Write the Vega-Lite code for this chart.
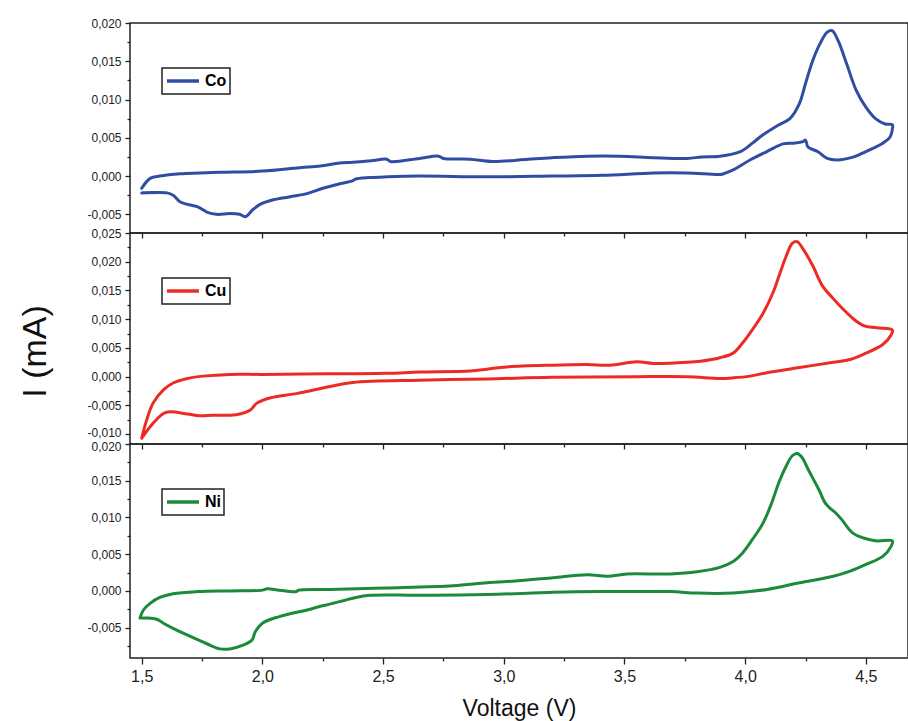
{
  "$schema": "https://vega.github.io/schema/vega-lite/v6.json",
  "padding": {"left": 17, "top": 16, "right": 0, "bottom": 0},
  "background": "white",
  "bounds": "flush",
  "spacing": 0,
  "config": {
    "font": "Liberation Sans",
    "view": {"stroke": "#222", "strokeWidth": 1.5},
    "axis": {"domain": false, "grid": false, "labelFont": "Liberation Sans", "labelColor": "#222", "tickColor": "#222", "tickWidth": 1.3, "labelOverlap": false, "labelFlush": false, "titleFont": "Liberation Sans", "titleColor": "#111", "titleFontWeight": "normal"},
    "legend": {"strokeColor": "#222", "strokeWidth": 1.5, "padding": 3, "symbolType": "stroke", "symbolStrokeWidth": 3.5, "symbolSize": 1024, "clipHeight": 20, "labelFontSize": 16, "labelFontWeight": "bold", "labelFont": "Liberation Sans", "labelColor": "black", "labelOffset": 4}
  },
  "resolve": {"scale": {"color": "independent", "x": "independent", "y": "independent"}, "legend": {"color": "independent"}},
  "datasets": {
    "cv": [
      {"m":"Co","o":1,"v":1.500,"i":-0.0016},{"m":"Co","o":2,"v":1.535,"i":-0.0003},{"m":"Co","o":3,"v":1.575,"i":0.0000},{"m":"Co","o":4,"v":1.66,"i":0.0003},{"m":"Co","o":5,"v":1.74,"i":0.0004},{"m":"Co","o":6,"v":1.82,"i":0.0005},{"m":"Co","o":7,"v":2.00,"i":0.00065},{"m":"Co","o":8,"v":2.155,"i":0.0011},{"m":"Co","o":9,"v":2.24,"i":0.0013},{"m":"Co","o":10,"v":2.32,"i":0.0017},{"m":"Co","o":11,"v":2.375,"i":0.0018},{"m":"Co","o":12,"v":2.45,"i":0.0020},{"m":"Co","o":13,"v":2.515,"i":0.0022},{"m":"Co","o":14,"v":2.53,"i":0.0019},{"m":"Co","o":15,"v":2.65,"i":0.0023},{"m":"Co","o":16,"v":2.73,"i":0.0026},{"m":"Co","o":17,"v":2.75,"i":0.0023},{"m":"Co","o":18,"v":2.86,"i":0.0022},{"m":"Co","o":19,"v":2.955,"i":0.0019},{"m":"Co","o":20,"v":3.10,"i":0.0022},{"m":"Co","o":21,"v":3.20,"i":0.0024},{"m":"Co","o":22,"v":3.345,"i":0.0026},{"m":"Co","o":23,"v":3.48,"i":0.0026},{"m":"Co","o":24,"v":3.62,"i":0.0024},{"m":"Co","o":25,"v":3.76,"i":0.0023},{"m":"Co","o":26,"v":3.82,"i":0.0025},{"m":"Co","o":27,"v":3.895,"i":0.0026},{"m":"Co","o":28,"v":3.98,"i":0.0032},{"m":"Co","o":29,"v":4.03,"i":0.0043},{"m":"Co","o":30,"v":4.07,"i":0.0053},{"m":"Co","o":31,"v":4.14,"i":0.0067},{"m":"Co","o":32,"v":4.185,"i":0.0075},{"m":"Co","o":33,"v":4.225,"i":0.0095},{"m":"Co","o":34,"v":4.25,"i":0.0121},{"m":"Co","o":35,"v":4.28,"i":0.0151},{"m":"Co","o":36,"v":4.31,"i":0.0173},{"m":"Co","o":37,"v":4.34,"i":0.0188},{"m":"Co","o":38,"v":4.36,"i":0.0190},{"m":"Co","o":39,"v":4.385,"i":0.0177},{"m":"Co","o":40,"v":4.42,"i":0.0147},{"m":"Co","o":41,"v":4.46,"i":0.0112},{"m":"Co","o":42,"v":4.50,"i":0.0090},{"m":"Co","o":43,"v":4.54,"i":0.0075},{"m":"Co","o":44,"v":4.58,"i":0.0068},{"m":"Co","o":45,"v":4.61,"i":0.0067},{"m":"Co","o":46,"v":4.61,"i":0.0062},{"m":"Co","o":47,"v":4.60,"i":0.0051},{"m":"Co","o":48,"v":4.57,"i":0.0043},{"m":"Co","o":49,"v":4.50,"i":0.0032},{"m":"Co","o":50,"v":4.45,"i":0.0025},{"m":"Co","o":51,"v":4.38,"i":0.0021},{"m":"Co","o":52,"v":4.34,"i":0.0023},{"m":"Co","o":53,"v":4.30,"i":0.0032},{"m":"Co","o":54,"v":4.26,"i":0.0038},{"m":"Co","o":55,"v":4.25,"i":0.0047},{"m":"Co","o":56,"v":4.24,"i":0.0045},{"m":"Co","o":57,"v":4.20,"i":0.0043},{"m":"Co","o":58,"v":4.157,"i":0.0042},{"m":"Co","o":59,"v":4.09,"i":0.0032},{"m":"Co","o":60,"v":4.02,"i":0.0021},{"m":"Co","o":61,"v":3.95,"i":0.0008},{"m":"Co","o":62,"v":3.91,"i":0.0003},{"m":"Co","o":63,"v":3.895,"i":0.0002},{"m":"Co","o":64,"v":3.76,"i":0.0004},{"m":"Co","o":65,"v":3.62,"i":0.0004},{"m":"Co","o":66,"v":3.41,"i":0.0001},{"m":"Co","o":67,"v":3.20,"i":0.0000},{"m":"Co","o":68,"v":2.93,"i":-0.0001},{"m":"Co","o":69,"v":2.65,"i":0.0000},{"m":"Co","o":70,"v":2.515,"i":-0.0001},{"m":"Co","o":71,"v":2.445,"i":-0.0002},{"m":"Co","o":72,"v":2.385,"i":-0.0004},{"m":"Co","o":73,"v":2.375,"i":-0.0006},{"m":"Co","o":74,"v":2.31,"i":-0.0011},{"m":"Co","o":75,"v":2.25,"i":-0.0016},{"m":"Co","o":76,"v":2.185,"i":-0.0023},{"m":"Co","o":77,"v":2.115,"i":-0.0027},{"m":"Co","o":78,"v":2.045,"i":-0.0031},{"m":"Co","o":79,"v":1.99,"i":-0.0037},{"m":"Co","o":80,"v":1.96,"i":-0.0044},{"m":"Co","o":81,"v":1.93,"i":-0.0053},{"m":"Co","o":82,"v":1.905,"i":-0.0050},{"m":"Co","o":83,"v":1.865,"i":-0.0049},{"m":"Co","o":84,"v":1.81,"i":-0.0050},{"m":"Co","o":85,"v":1.77,"i":-0.0047},{"m":"Co","o":86,"v":1.73,"i":-0.0040},{"m":"Co","o":87,"v":1.69,"i":-0.0037},{"m":"Co","o":88,"v":1.66,"i":-0.0034},{"m":"Co","o":89,"v":1.63,"i":-0.0025},{"m":"Co","o":90,"v":1.605,"i":-0.0022},{"m":"Co","o":91,"v":1.50,"i":-0.0022},
      {"m":"Cu","o":1,"v":1.500,"i":-0.0107},{"m":"Cu","o":2,"v":1.52,"i":-0.0076},{"m":"Cu","o":3,"v":1.547,"i":-0.0046},{"m":"Cu","o":4,"v":1.59,"i":-0.0023},{"m":"Cu","o":5,"v":1.63,"i":-0.0011},{"m":"Cu","o":6,"v":1.69,"i":-0.0003},{"m":"Cu","o":7,"v":1.755,"i":0.0001},{"m":"Cu","o":8,"v":1.865,"i":0.0004},{"m":"Cu","o":9,"v":2.00,"i":0.0004},{"m":"Cu","o":10,"v":2.28,"i":0.0005},{"m":"Cu","o":11,"v":2.515,"i":0.0006},{"m":"Cu","o":12,"v":2.65,"i":0.0008},{"m":"Cu","o":13,"v":2.86,"i":0.0010},{"m":"Cu","o":14,"v":2.93,"i":0.0013},{"m":"Cu","o":15,"v":3.01,"i":0.0017},{"m":"Cu","o":16,"v":3.20,"i":0.0020},{"m":"Cu","o":17,"v":3.345,"i":0.0021},{"m":"Cu","o":18,"v":3.44,"i":0.0020},{"m":"Cu","o":19,"v":3.55,"i":0.0026},{"m":"Cu","o":20,"v":3.62,"i":0.0023},{"m":"Cu","o":21,"v":3.76,"i":0.0025},{"m":"Cu","o":22,"v":3.815,"i":0.0027},{"m":"Cu","o":23,"v":3.895,"i":0.0033},{"m":"Cu","o":24,"v":3.95,"i":0.0041},{"m":"Cu","o":25,"v":3.99,"i":0.0059},{"m":"Cu","o":26,"v":4.03,"i":0.0082},{"m":"Cu","o":27,"v":4.075,"i":0.0111},{"m":"Cu","o":28,"v":4.115,"i":0.0146},{"m":"Cu","o":29,"v":4.14,"i":0.0175},{"m":"Cu","o":30,"v":4.17,"i":0.0210},{"m":"Cu","o":31,"v":4.195,"i":0.0232},{"m":"Cu","o":32,"v":4.215,"i":0.0235},{"m":"Cu","o":33,"v":4.24,"i":0.0222},{"m":"Cu","o":34,"v":4.28,"i":0.0193},{"m":"Cu","o":35,"v":4.32,"i":0.0158},{"m":"Cu","o":36,"v":4.36,"i":0.0138},{"m":"Cu","o":37,"v":4.40,"i":0.0120},{"m":"Cu","o":38,"v":4.45,"i":0.0100},{"m":"Cu","o":39,"v":4.49,"i":0.0089},{"m":"Cu","o":40,"v":4.545,"i":0.0085},{"m":"Cu","o":41,"v":4.61,"i":0.0081},{"m":"Cu","o":42,"v":4.605,"i":0.0073},{"m":"Cu","o":43,"v":4.57,"i":0.0056},{"m":"Cu","o":44,"v":4.50,"i":0.0041},{"m":"Cu","o":45,"v":4.435,"i":0.0030},{"m":"Cu","o":46,"v":4.365,"i":0.0025},{"m":"Cu","o":47,"v":4.225,"i":0.0016},{"m":"Cu","o":48,"v":4.09,"i":0.0007},{"m":"Cu","o":49,"v":4.02,"i":0.0001},{"m":"Cu","o":50,"v":3.95,"i":-0.0002},{"m":"Cu","o":51,"v":3.895,"i":-0.0003},{"m":"Cu","o":52,"v":3.76,"i":0.0000},{"m":"Cu","o":53,"v":3.55,"i":0.0000},{"m":"Cu","o":54,"v":3.20,"i":-0.0001},{"m":"Cu","o":55,"v":2.93,"i":-0.0004},{"m":"Cu","o":56,"v":2.65,"i":-0.0006},{"m":"Cu","o":57,"v":2.375,"i":-0.0010},{"m":"Cu","o":58,"v":2.28,"i":-0.0017},{"m":"Cu","o":59,"v":2.145,"i":-0.0029},{"m":"Cu","o":60,"v":2.03,"i":-0.0037},{"m":"Cu","o":61,"v":1.977,"i":-0.0046},{"m":"Cu","o":62,"v":1.95,"i":-0.0058},{"m":"Cu","o":63,"v":1.907,"i":-0.0065},{"m":"Cu","o":64,"v":1.865,"i":-0.0067},{"m":"Cu","o":65,"v":1.795,"i":-0.0067},{"m":"Cu","o":66,"v":1.74,"i":-0.0068},{"m":"Cu","o":67,"v":1.69,"i":-0.0065},{"m":"Cu","o":68,"v":1.617,"i":-0.0061},{"m":"Cu","o":69,"v":1.59,"i":-0.0064},{"m":"Cu","o":70,"v":1.547,"i":-0.0081},{"m":"Cu","o":71,"v":1.505,"i":-0.0104},{"m":"Cu","o":72,"v":1.500,"i":-0.0107},
      {"m":"Ni","o":1,"v":1.493,"i":-0.0037},{"m":"Ni","o":2,"v":1.507,"i":-0.0026},{"m":"Ni","o":3,"v":1.535,"i":-0.0017},{"m":"Ni","o":4,"v":1.575,"i":-0.0009},{"m":"Ni","o":5,"v":1.63,"i":-0.0004},{"m":"Ni","o":6,"v":1.73,"i":-0.0001},{"m":"Ni","o":7,"v":1.865,"i":0.0000},{"m":"Ni","o":8,"v":2.00,"i":0.0001},{"m":"Ni","o":9,"v":2.02,"i":0.0003},{"m":"Ni","o":10,"v":2.07,"i":0.0001},{"m":"Ni","o":11,"v":2.14,"i":-0.0001},{"m":"Ni","o":12,"v":2.15,"i":0.0001},{"m":"Ni","o":13,"v":2.28,"i":0.0002},{"m":"Ni","o":14,"v":2.515,"i":0.0004},{"m":"Ni","o":15,"v":2.79,"i":0.0007},{"m":"Ni","o":16,"v":2.93,"i":0.0011},{"m":"Ni","o":17,"v":3.07,"i":0.0014},{"m":"Ni","o":18,"v":3.205,"i":0.0018},{"m":"Ni","o":19,"v":3.345,"i":0.0022},{"m":"Ni","o":20,"v":3.43,"i":0.0020},{"m":"Ni","o":21,"v":3.51,"i":0.0023},{"m":"Ni","o":22,"v":3.69,"i":0.0023},{"m":"Ni","o":23,"v":3.80,"i":0.0026},{"m":"Ni","o":24,"v":3.895,"i":0.0032},{"m":"Ni","o":25,"v":3.95,"i":0.0040},{"m":"Ni","o":26,"v":3.99,"i":0.0052},{"m":"Ni","o":27,"v":4.03,"i":0.0070},{"m":"Ni","o":28,"v":4.075,"i":0.0093},{"m":"Ni","o":29,"v":4.11,"i":0.0120},{"m":"Ni","o":30,"v":4.14,"i":0.0148},{"m":"Ni","o":31,"v":4.17,"i":0.0170},{"m":"Ni","o":32,"v":4.195,"i":0.0184},{"m":"Ni","o":33,"v":4.215,"i":0.0187},{"m":"Ni","o":34,"v":4.235,"i":0.0182},{"m":"Ni","o":35,"v":4.26,"i":0.0166},{"m":"Ni","o":36,"v":4.305,"i":0.0138},{"m":"Ni","o":37,"v":4.335,"i":0.0118},{"m":"Ni","o":38,"v":4.375,"i":0.0106},{"m":"Ni","o":39,"v":4.40,"i":0.0097},{"m":"Ni","o":40,"v":4.445,"i":0.0079},{"m":"Ni","o":41,"v":4.49,"i":0.0072},{"m":"Ni","o":42,"v":4.545,"i":0.0068},{"m":"Ni","o":43,"v":4.61,"i":0.0068},{"m":"Ni","o":44,"v":4.605,"i":0.0061},{"m":"Ni","o":45,"v":4.57,"i":0.0047},{"m":"Ni","o":46,"v":4.50,"i":0.0036},{"m":"Ni","o":47,"v":4.435,"i":0.0027},{"m":"Ni","o":48,"v":4.365,"i":0.0020},{"m":"Ni","o":49,"v":4.225,"i":0.0011},{"m":"Ni","o":50,"v":4.09,"i":0.0002},{"m":"Ni","o":51,"v":4.02,"i":-0.0001},{"m":"Ni","o":52,"v":3.95,"i":-0.0003},{"m":"Ni","o":53,"v":3.80,"i":-0.0003},{"m":"Ni","o":54,"v":3.69,"i":-0.0001},{"m":"Ni","o":55,"v":3.41,"i":-0.0001},{"m":"Ni","o":56,"v":3.205,"i":-0.0002},{"m":"Ni","o":57,"v":2.93,"i":-0.0005},{"m":"Ni","o":58,"v":2.65,"i":-0.0006},{"m":"Ni","o":59,"v":2.445,"i":-0.0006},{"m":"Ni","o":60,"v":2.375,"i":-0.0010},{"m":"Ni","o":61,"v":2.28,"i":-0.0018},{"m":"Ni","o":62,"v":2.24,"i":-0.0021},{"m":"Ni","o":63,"v":2.185,"i":-0.0026},{"m":"Ni","o":64,"v":2.07,"i":-0.0035},{"m":"Ni","o":65,"v":2.00,"i":-0.0044},{"m":"Ni","o":66,"v":1.97,"i":-0.0056},{"m":"Ni","o":67,"v":1.957,"i":-0.0067},{"m":"Ni","o":68,"v":1.92,"i":-0.0074},{"m":"Ni","o":69,"v":1.865,"i":-0.0079},{"m":"Ni","o":70,"v":1.824,"i":-0.0079},{"m":"Ni","o":71,"v":1.77,"i":-0.0072},{"m":"Ni","o":72,"v":1.688,"i":-0.0060},{"m":"Ni","o":73,"v":1.63,"i":-0.0051},{"m":"Ni","o":74,"v":1.59,"i":-0.0044},{"m":"Ni","o":75,"v":1.565,"i":-0.0039},{"m":"Ni","o":76,"v":1.52,"i":-0.0037},{"m":"Ni","o":77,"v":1.493,"i":-0.0037}
    ]
  },
  "vconcat": [
    {
      "width": 778, "height": 210,
      "data": {"name": "cv"},
      "transform": [{"filter": "datum.m === 'Co'"}],
      "mark": {"type": "line", "strokeWidth": 3, "strokeJoin": "round", "strokeCap": "round", "interpolate": "catmull-rom"},
      "encoding": {
        "x": {"field": "v", "type": "quantitative", "scale": {"domain": [1.4515, 4.6745], "nice": false, "zero": false},
              "axis": {"title": null, "labels": false, "values": [1.5,1.75,2,2.25,2.5,2.75,3,3.25,3.5,3.75,4,4.25,4.5],
                       "tickSize": {"condition": {"test": "abs(datum.value*2 - round(datum.value*2)) < 0.001", "value": 5}, "value": 3}}},
        "y": {"field": "i", "type": "quantitative", "scale": {"domain": [-0.00744, 0.020], "nice": false, "zero": false},
              "axis": {"title": null, "values": [-0.005,-0.0025,0,0.0025,0.005,0.0075,0.01,0.0125,0.015,0.0175,0.02],
                       "labelFontSize": 12, "labelPadding": 4,
                       "labelExpr": "abs(datum.value*200 - round(datum.value*200)) < 0.001 ? (datum.value < -0.0000001 ? '-' : '') + replace(format(abs(datum.value), '.3f'), '.', ',') : ''",
                       "tickSize": {"condition": {"test": "abs(datum.value*200 - round(datum.value*200)) < 0.001", "value": 5}, "value": 3}}},
        "order": {"field": "o", "type": "quantitative"},
        "color": {"field": "m", "type": "nominal", "scale": {"domain": ["Co"], "range": ["#2f4ea3"]},
                  "legend": {"title": null, "orient": "none", "legendX": 32, "legendY": 45}}
      }
    },
    {
      "width": 778, "height": 211,
      "data": {"name": "cv"},
      "transform": [{"filter": "datum.m === 'Cu'"}],
      "mark": {"type": "line", "strokeWidth": 3, "strokeJoin": "round", "strokeCap": "round", "interpolate": "catmull-rom"},
      "encoding": {
        "x": {"field": "v", "type": "quantitative", "scale": {"domain": [1.4515, 4.6745], "nice": false, "zero": false},
              "axis": {"title": null, "labels": false, "values": [1.5,1.75,2,2.25,2.5,2.75,3,3.25,3.5,3.75,4,4.25,4.5],
                       "tickSize": {"condition": {"test": "abs(datum.value*2 - round(datum.value*2)) < 0.001", "value": 5}, "value": 3}}},
        "y": {"field": "i", "type": "quantitative", "scale": {"domain": [-0.01171, 0.025], "nice": false, "zero": false},
              "axis": {"title": "I (mA)", "titleFontSize": 34, "titleX": -95, "titleY": 118, "titleBaseline": "middle", "titleAlign": "center", "titleAngle": -90,
                       "values": [-0.01,-0.0075,-0.005,-0.0025,0,0.0025,0.005,0.0075,0.01,0.0125,0.015,0.0175,0.02,0.0225,0.025],
                       "labelFontSize": 12, "labelPadding": 4,
                       "labelOffset": {"condition": {"test": "datum.value < -0.009", "value": -2}, "value": 0},
                       "labelExpr": "abs(datum.value*200 - round(datum.value*200)) < 0.001 ? (datum.value < -0.0000001 ? '-' : '') + replace(format(abs(datum.value), '.3f'), '.', ',') : ''",
                       "tickSize": {"condition": {"test": "abs(datum.value*200 - round(datum.value*200)) < 0.001", "value": 5}, "value": 3}}},
        "order": {"field": "o", "type": "quantitative"},
        "color": {"field": "m", "type": "nominal", "scale": {"domain": ["Cu"], "range": ["#ec2c24"]},
                  "legend": {"title": null, "orient": "none", "legendX": 32, "legendY": 45}}
      }
    },
    {
      "width": 778, "height": 214,
      "data": {"name": "cv"},
      "transform": [{"filter": "datum.m === 'Ni'"}],
      "mark": {"type": "line", "strokeWidth": 3, "strokeJoin": "round", "strokeCap": "round", "interpolate": "catmull-rom"},
      "encoding": {
        "x": {"field": "v", "type": "quantitative", "scale": {"domain": [1.4515, 4.6745], "nice": false, "zero": false},
              "axis": {"title": "Voltage (V)", "titleFontSize": 23, "titlePadding": 13, "values": [1.5,1.75,2,2.25,2.5,2.75,3,3.25,3.5,3.75,4,4.25,4.5],
                       "labelFontSize": 16, "labelPadding": 4,
                       "labelExpr": "abs(datum.value*2 - round(datum.value*2)) < 0.001 ? replace(format(datum.value, '.1f'), '.', ',') : ''",
                       "tickSize": {"condition": {"test": "abs(datum.value*2 - round(datum.value*2)) < 0.001", "value": 6}, "value": 3}}},
        "y": {"field": "i", "type": "quantitative", "scale": {"domain": [-0.00914, 0.020], "nice": false, "zero": false},
              "axis": {"title": null, "values": [-0.0075,-0.005,-0.0025,0,0.0025,0.005,0.0075,0.01,0.0125,0.015,0.0175,0.02],
                       "labelFontSize": 12, "labelPadding": 4,
                       "labelOffset": {"condition": {"test": "datum.value > 0.019", "value": 2}, "value": 0},
                       "labelExpr": "abs(datum.value*200 - round(datum.value*200)) < 0.001 ? (datum.value < -0.0000001 ? '-' : '') + replace(format(abs(datum.value), '.3f'), '.', ',') : ''",
                       "tickSize": {"condition": {"test": "abs(datum.value*200 - round(datum.value*200)) < 0.001", "value": 5}, "value": 3}}},
        "order": {"field": "o", "type": "quantitative"},
        "color": {"field": "m", "type": "nominal", "scale": {"domain": ["Ni"], "range": ["#1b8a3a"]},
                  "legend": {"title": null, "orient": "none", "legendX": 32, "legendY": 45}}
      }
    }
  ]
}
